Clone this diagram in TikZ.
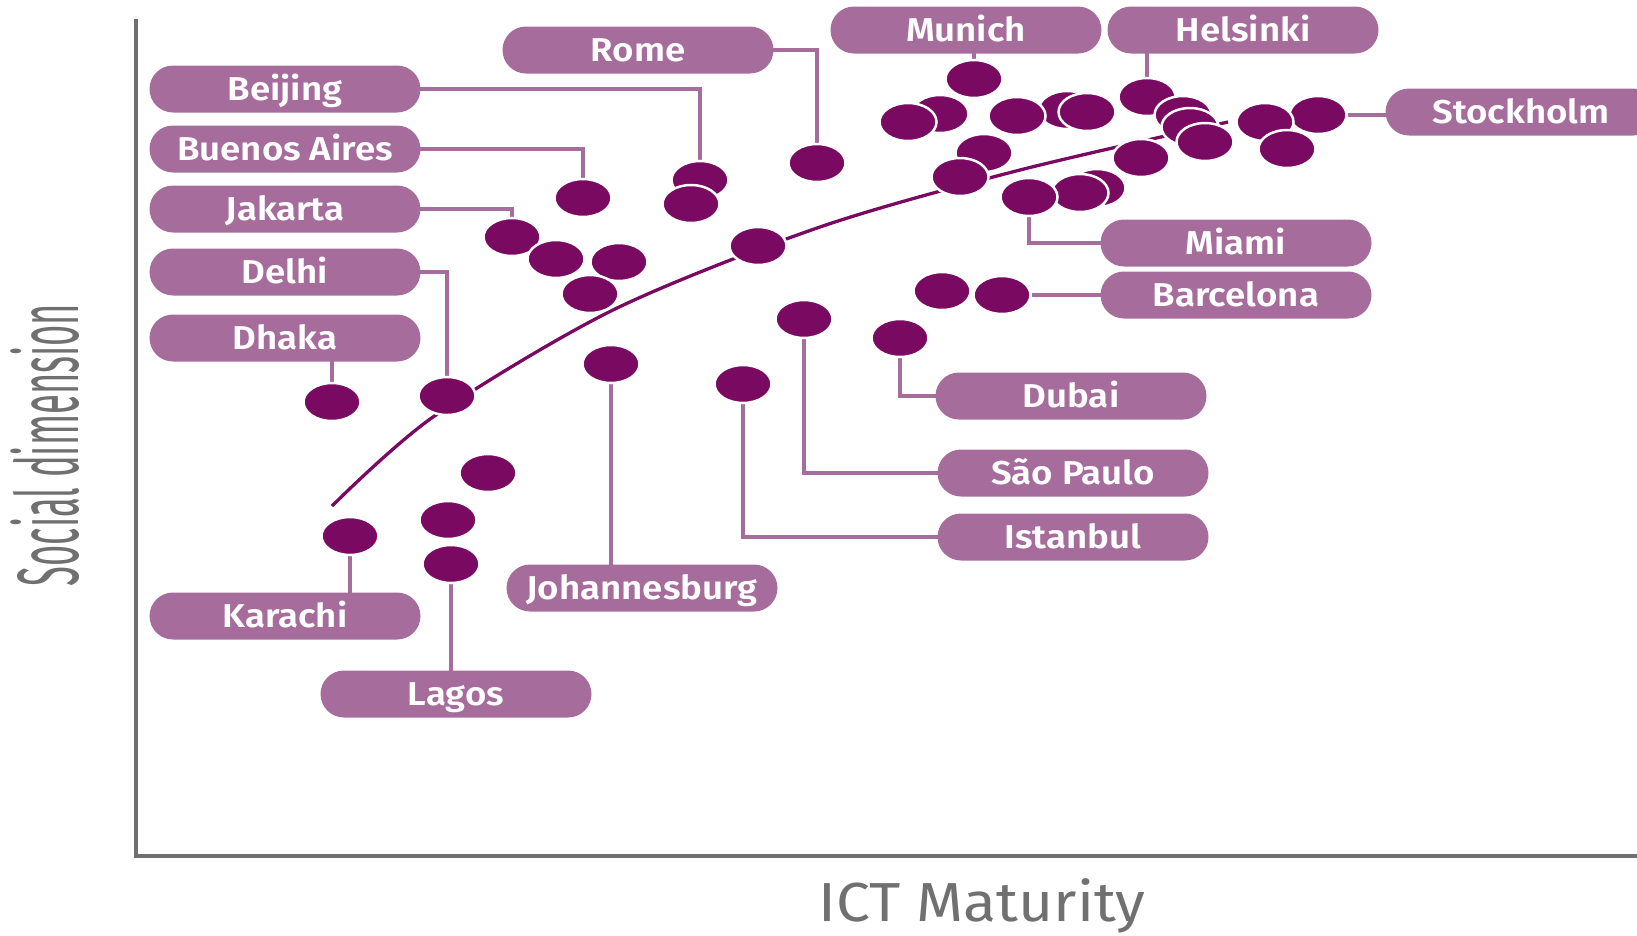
\documentclass[tikz,border=0pt]{standalone}
\usepackage{fontspec}
\setmainfont{Fira Sans}[BoldFont={Fira Sans SemiBold},UprightFeatures={FakeStretch=1.1},BoldFeatures={FakeStretch=1.11}]
\usepackage{tikz}
\usetikzlibrary{positioning,shapes,backgrounds}
\definecolor{citycol}{HTML}{A66D9C}
\definecolor{dotcol}{HTML}{7A0962}
\definecolor{axiscol}{HTML}{707070}

\begin{document}
\begin{tikzpicture}[x=1pt,y=-1pt,
    city/.style={fill=citycol,text=white,rounded corners=23.5pt,minimum width=271pt,minimum height=47pt,inner sep=0pt,text height=23pt,text depth=0pt,font=\fontsize{33}{36}\selectfont\bfseries},
    dot/.style={ellipse,fill=dotcol,draw=white,line width=2.5pt,minimum width=57pt,minimum height=38pt,inner sep=0pt},
    leader/.style={draw=citycol,line width=3.5pt},
    axistitle/.style={text=axiscol,inner sep=0pt,anchor=base}]
        \useasboundingbox (0,0) rectangle (1637,935);
        % axes
        \coordinate (ytop) at (136,19); \coordinate (origin) at (136,856); \coordinate (xend) at (1640,856);
        \draw[axiscol,line width=4pt] (ytop) -- (origin) -- (xend);
        \node[axistitle,rotate=90,xscale=0.38,font=\fontsize{87}{90}\selectfont] (ylab) at (78,445) {Social dimension};
        \node[axistitle,font=\fontsize{55}{60}\selectfont] (xlab) at (982,921) {ICT Maturity};
        % label places
        \path (285,89) coordinate (Bei) (285,149) coordinate (Bue) (285,209) coordinate (Jak)
              (285,272) coordinate (Del) (285,338) coordinate (Dha) (638,50) coordinate (Rom)
              (966,30) coordinate (Mun) (1243,30) coordinate (Hel) (1521,112) coordinate (Sto)
              (1236,243) coordinate (Mia) (1236,295) coordinate (Bar) (1071,396) coordinate (Dub)
              (1073,473) coordinate (Sao) (1073,537) coordinate (Ist) (642,588) coordinate (Joh)
              (285,616) coordinate (Kar) (456,694) coordinate (Lag);
        % trend
        \draw[dotcol,line width=3.3pt] plot[smooth] coordinates {(332,506) (433,417) (613,310) (820,227) (1020,170) (1228,122)};
        % dots
        \node[dot] (dh) at (332,402) {}; \node[dot] (dl) at (447,396) {}; \node[dot] (ka) at (350,536) {};
        \node[dot] (la1) at (488,473) {}; \node[dot] (la2) at (448,520) {}; \node[dot] (la) at (451,564) {};
        \node[dot] (jk) at (512,237) {}; \node[dot] (jk2) at (556,259) {}; \node[dot] (jk3) at (619,262) {};
        \node[dot] (jk4) at (590,294) {}; \node[dot] (ba) at (583,198) {};
        \node[dot] (bj) at (700,180) {}; \node[dot] (bj2) at (691,204) {};
        \node[dot] (rm) at (817,163) {}; \node[dot] (tr) at (758,246) {};
        \node[dot] (jb) at (611,364) {}; \node[dot] (is) at (743,384) {}; \node[dot] (sp) at (804,319) {};
        \node[dot] (db) at (900,338) {}; \node[dot] (bc1) at (942,291) {}; \node[dot] (bc) at (1002,295) {};
        \node[dot] (mu) at (974,79) {}; \node[dot] (t1) at (940,114) {}; \node[dot] (t2) at (908,122) {};
        \node[dot] (t3) at (1067,110) {}; \node[dot] (t4) at (1017,116) {}; \node[dot] (t5) at (1087,112) {};
        \node[dot] (he) at (1147,97) {}; \node[dot] (h1) at (1183,115) {}; \node[dot] (h2) at (1190,127) {};
        \node[dot] (h3) at (1205,142) {};
        \node[dot] (st) at (1318,115) {}; \node[dot] (s1) at (1265,122) {}; \node[dot] (s2) at (1287,149) {};
        \node[dot] (c1) at (984,153) {}; \node[dot] (c2) at (960,177) {}; \node[dot] (c3) at (1141,158) {};
        \node[dot] (mi3) at (1097,188) {}; \node[dot] (mi2) at (1080,193) {}; \node[dot] (mi) at (1029,197) {};
        % leaders, behind the dots
        \begin{scope}[on background layer]
        \draw[leader] (Bei) -| (bj); \draw[leader] (Bue) -| (ba); \draw[leader] (Jak) -| (jk);
        \draw[leader] (Del) -| (dl); \draw[leader] (dh) -- (dh |- Dha); \draw[leader] (Rom) -| (rm);
        \draw[leader] (mu) -- (mu |- Mun); \draw[leader] (he) -- (he |- Hel); \draw[leader] (st) -- (st -| Sto);
        \draw[leader] (Mia) -| (mi); \draw[leader] (bc) -- (bc -| Bar); \draw[leader] (Dub) -| (db);
        \draw[leader] (Sao) -| (sp); \draw[leader] (Ist) -| (is); \draw[leader] (jb) -- (jb |- Joh);
        \draw[leader] (ka) -- (ka |- Kar); \draw[leader] (la) -- (la |- Lag);
        \end{scope}
        % labels
        \node[city] (beijing) at (Bei) {Beijing}; \node[city] (buenosaires) at (Bue) {Buenos Aires};
        \node[city] (jakarta) at (Jak) {Jakarta}; \node[city] (delhi) at (Del) {Delhi};
        \node[city] (dhaka) at (Dha) {Dhaka}; \node[city] (rome) at (Rom) {Rome};
        \node[city] (munich) at (Mun) {Munich}; \node[city] (helsinki) at (Hel) {Helsinki};
        \node[city] (stockholm) at (Sto) {Stockholm}; \node[city] (miami) at (Mia) {Miami};
        \node[city] (barcelona) at (Bar) {Barcelona}; \node[city] (dubai) at (Dub) {Dubai};
        \node[city] (saopaulo) at (Sao) {São Paulo}; \node[city] (istanbul) at (Ist) {Istanbul};
        \node[city] (johannesburg) at (Joh) {Johannesburg}; \node[city] (karachi) at (Kar) {Karachi};
        \node[city] (lagos) at (Lag) {Lagos};
\end{tikzpicture}
\end{document}
